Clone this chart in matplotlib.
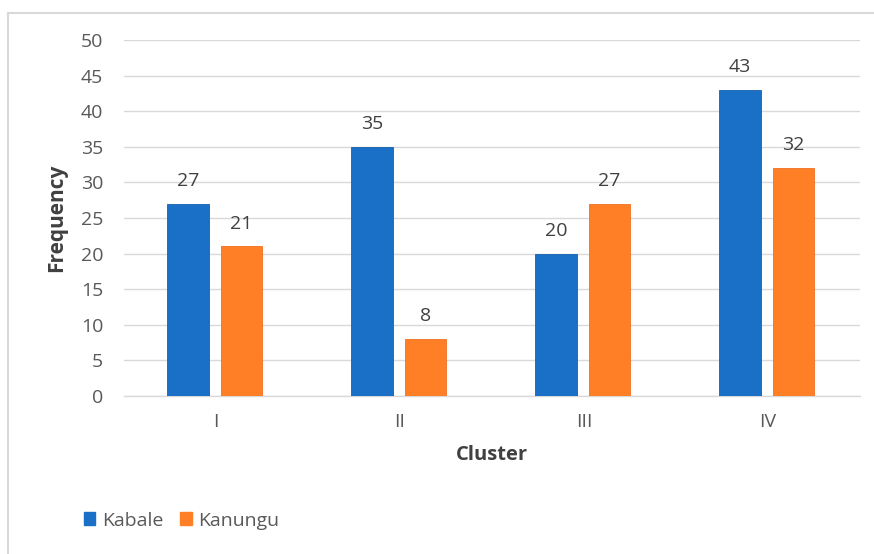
import matplotlib
matplotlib.use("Agg")
import matplotlib.pyplot as plt
import numpy as np
from matplotlib.lines import Line2D
from matplotlib.patches import Patch

categories = ["I", "II", "III", "IV"]
kabale = [27, 35, 20, 43]
kanungu = [21, 8, 27, 32]
series_names = ["Kabale", "Kanungu"]
colors = ["#1A6FC6", "#FF7F27"]

plt.rcParams['font.family'] = ['Open Sans', 'DejaVu Sans']
fig = plt.figure(figsize=(8.74, 5.54), dpi=100)
ax = fig.add_axes([124/874, 1-396/554, 736/874, 356/554])

x = np.arange(len(categories))
w = 0.225
b1 = ax.bar(x - 0.152, kabale, w, color=colors[0], edgecolor="#1560B0", linewidth=0.6, zorder=3)
b2 = ax.bar(x + 0.137, kanungu, w, color=colors[1], edgecolor="#F07020", linewidth=0.6, zorder=3)
for bars, vals in ((b1, kabale), (b2, kanungu)):
    for r, v in zip(bars, vals):
        ax.annotate(str(v), (r.get_x() + r.get_width()/2, v), xytext=(0, 10),
                    textcoords="offset points", ha="center", va="bottom",
                    fontsize=14, color="#404040")

ax.set_xlim(-0.5, 3.5)
ax.set_ylim(0, 50)
ax.set_yticks(range(0, 51, 5))
ax.set_xticks(x)
ax.set_xticklabels(categories)
ax.tick_params(axis='both', length=0, labelsize=14, labelcolor="#595959")
ax.tick_params(axis='y', pad=15)
ax.tick_params(axis='x', pad=12)
ax.grid(axis='y', color="#D9D9D9", linewidth=1, zorder=0)
for s in ["top", "right", "left"]:
    ax.spines[s].set_visible(False)
ax.spines["bottom"].set_color("#D9D9D9")
ax.spines["bottom"].set_linewidth(1)
ax.set_xlabel("Cluster", fontsize=14.5, fontweight="bold", color="#404040", labelpad=10)
ax.set_ylabel("Frequency", fontsize=15, fontweight="bold", color="#404040", labelpad=10)

handles = [Patch(facecolor=c, edgecolor=c) for c in colors]
fig.legend(handles, series_names, loc="lower left", bbox_to_anchor=(66/874, 1-547/554),
           frameon=False, ncol=2, fontsize=14, handlelength=0.6, handleheight=0.6,
           handletextpad=0.35, columnspacing=0.85, labelcolor="#595959")

# chart border (top and left)
fig.add_artist(Line2D([8/874, 1.0], [1-13/554, 1-13/554], color="#D9D9D9", linewidth=1.5, transform=fig.transFigure))
fig.add_artist(Line2D([8/874, 8/874], [0, 1-13/554], color="#D9D9D9", linewidth=1.5, transform=fig.transFigure))

fig.savefig("out.png", dpi=100)
